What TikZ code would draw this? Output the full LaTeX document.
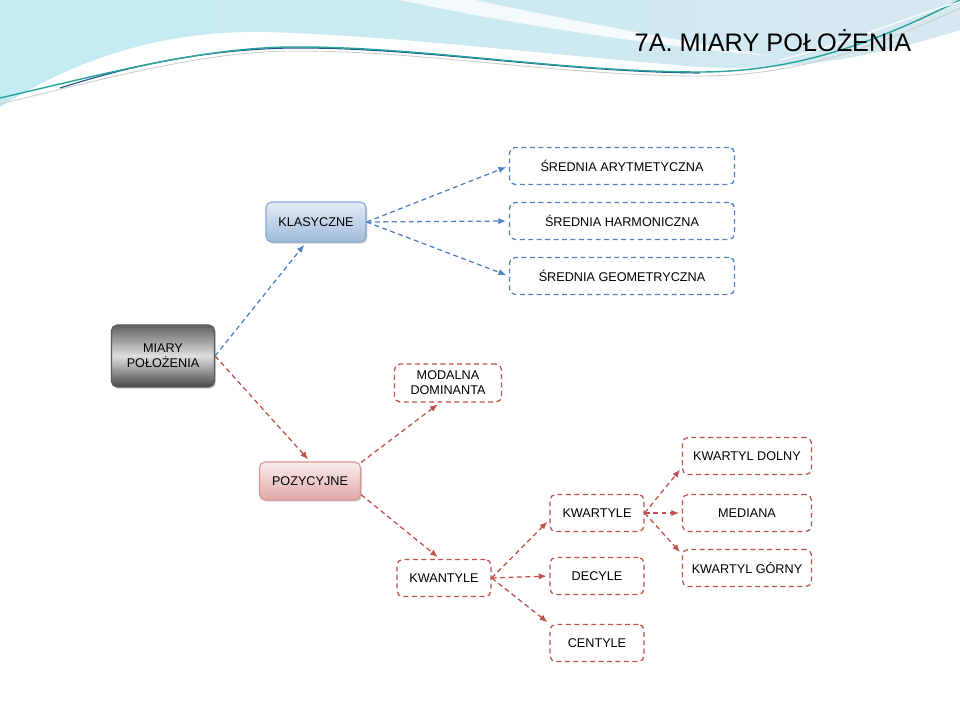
\documentclass[tikz,border=0pt]{standalone}
\usepackage{fontspec}
\setmainfont{Liberation Sans}
\usetikzlibrary{shadows, arrows.meta}

\definecolor{lineblue}{HTML}{4F81BD}
\definecolor{linered}{HTML}{C0504D}
\definecolor{skyA}{HTML}{C2EBF3}
\definecolor{skyB}{HTML}{D6E8F0}
\definecolor{tealline}{HTML}{27A39B}
\definecolor{navyline}{HTML}{24508F}

\tikzset{
	dashbox/.style = {draw, line width = 0.9pt, dash pattern = on 3.5pt off 2.5pt,
		rounded corners = 4pt, fill = white, align = center, inner sep = 2pt,
		font = \fontsize{9}{10.5}\selectfont},
	bluebox/.style = {dashbox, draw = lineblue, minimum width = 5.625cm, minimum height = 0.925cm},
	redbox/.style = {dashbox, draw = linered, minimum width = 2.35cm, minimum height = 0.925cm},
	wideredbox/.style = {redbox, minimum width = 3.225cm},
	shadedbox/.style = {draw, line width = 0.8pt, rounded corners = 4pt, align = center,
		inner sep = 2pt, drop shadow = {opacity = 0.35, shadow xshift = 1pt, shadow yshift = -1.2pt},
		font = \fontsize{9}{10.5}\selectfont},
	blueflow/.style = {->, lineblue, line width = 0.9pt, dash pattern = on 3.5pt off 2.5pt, shorten > = 2pt},
	redflow/.style = {->, linered, line width = 0.9pt, dash pattern = on 3.5pt off 2.5pt, shorten > = 2pt}
}

\begin{document}
\begin{tikzpicture}[> = {Latex[length = 5.5pt, width = 4.5pt]}, x = 0.025cm, y = -0.025cm]

	% Frame (pixel units, y downwards)

	\useasboundingbox (0, 0) rectangle (960, 720);
	\fill [white] (0, 0) rectangle (960, 720);

	% Swoosh in the heading

	\shade [left color = skyA, right color = skyB]
		(0, 0) -- (960, 0) -- (960, 30)
		.. controls (880, 55) and (800, 72) .. (700, 67)
		.. controls (550, 55) and (400, 36) .. (267, 32)
		.. controls (180, 30) and (90, 50) .. (0, 107) -- cycle;
	\fill [white, opacity = 0.8] (400, 0)
		.. controls (470, 15) and (600, 40) .. (770, 56)
		.. controls (620, 30) and (520, 10) .. (475, 0) -- cycle;
	\draw [gray!40, line width = 0.6pt] (0, 104)
		.. controls (100, 80) and (200, 52) .. (290, 51)
		.. controls (420, 50) and (560, 76) .. (700, 76)
		.. controls (800, 76) and (880, 45) .. (960, 8);
	\draw [navyline, line width = 0.8pt] (60, 88)
		.. controls (130, 66) and (200, 50) .. (290, 48)
		.. controls (420, 47) and (560, 72) .. (700, 73);
	\draw [tealline, line width = 1pt] (0, 98)
		.. controls (100, 75) and (200, 48) .. (290, 47)
		.. controls (420, 46) and (560, 72) .. (700, 72)
		.. controls (800, 72) and (880, 40) .. (960, 0);
	\draw [white, line width = 0.8pt] (780, 60) .. controls (860, 40) and (910, 15) .. (960, 2);

	% Title

	\node (title) at (773, 41) {\fontsize{18}{21}\selectfont 7A. MIARY POŁOŻENIA};

	% Boxes

	\node [shadedbox, draw = gray!70!black, minimum width = 2.575cm, minimum height = 1.55cm,
		top color = gray!75!black, bottom color = gray!55!black, middle color = gray!25]
		(miary) at (163, 356) {MIARY\\POŁOŻENIA};
	\node [shadedbox, draw = lineblue!70, minimum width = 2.5cm, minimum height = 1cm,
		top color = lineblue!15, bottom color = lineblue!55]
		(klas) at (316, 222) {KLASYCZNE};
	\node [shadedbox, draw = linered!60, minimum width = 2.525cm, minimum height = 0.95cm,
		top color = linered!10, bottom color = linered!50]
		(pozyc) at (310, 481) {POZYCYJNE};

	\node [bluebox] (sredA) at (622, 166) {ŚREDNIA ARYTMETYCZNA};
	\node [bluebox] (sredH) at (622, 221) {ŚREDNIA HARMONICZNA};
	\node [bluebox] (sredG) at (622, 276) {ŚREDNIA GEOMETRYCZNA};

	\node [redbox, minimum width = 2.675cm, minimum height = 0.95cm] (modal) at (448, 383) {MODALNA\\DOMINANTA};
	\node [redbox] (kwant) at (444, 578) {KWANTYLE};
	\node [redbox] (kwart) at (597, 513) {KWARTYLE};
	\node [redbox] (decyl) at (597, 576) {DECYLE};
	\node [redbox] (centyl) at (597, 643) {CENTYLE};
	\node [wideredbox] (kdol) at (747, 456) {KWARTYL DOLNY};
	\node [wideredbox] (med) at (747, 513) {MEDIANA};
	\node [wideredbox] (kgor) at (747, 568) {KWARTYL GÓRNY};

	% Connections

	\draw [blueflow] (miary.east) -- ([xshift = -0.25cm] klas.south);
	\foreach \Q in {sredA, sredH, sredG}
		\draw [blueflow] (klas.east) -- (\Q.west);

	\draw [redflow] (miary.east) -- (pozyc.north);
	\draw [redflow] (pozyc.20) -- ([xshift = -0.2cm] modal.south);
	\draw [redflow] (pozyc.-15) -- ([xshift = -0.1cm] kwant.north);

	\draw [redflow] (kwant.east) -- (kwart.188);
	\draw [redflow] (kwant.east) -- (decyl.west);
	\draw [redflow] (kwant.east) -- (centyl.158);

	\draw [redflow] (kwart.east) -- (kdol.190);
	\draw [redflow] (kwart.east) -- (med.west);
	\draw [redflow] (kwart.east) -- (kgor.168);

\end{tikzpicture}
\end{document}
